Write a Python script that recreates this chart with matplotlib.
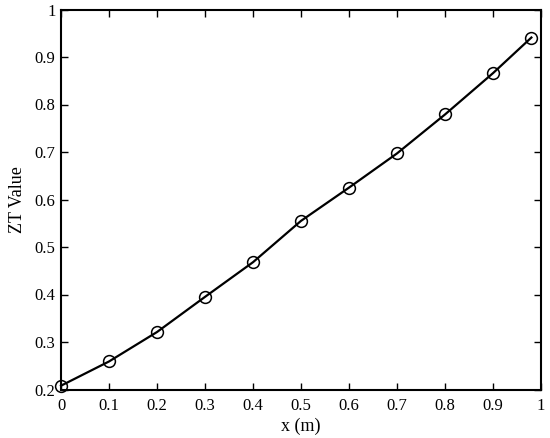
import matplotlib
matplotlib.use("Agg")
import matplotlib.pyplot as plt

x_vals = [0.0, 0.1, 0.2, 0.3, 0.4, 0.5, 0.6, 0.7, 0.8, 0.9, 0.98]
zt_vals = [0.208, 0.259, 0.321, 0.395, 0.468, 0.555, 0.625, 0.697, 0.779, 0.866, 0.941]
xticks = [0, 0.1, 0.2, 0.3, 0.4, 0.5, 0.6, 0.7, 0.8, 0.9, 1]
xtick_labels = ["0", "0.1", "0.2", "0.3", "0.4", "0.5", "0.6", "0.7", "0.8", "0.9", "1"]
yticks = [0.2, 0.3, 0.4, 0.5, 0.6, 0.7, 0.8, 0.9, 1]
ytick_labels = ["0.2", "0.3", "0.4", "0.5", "0.6", "0.7", "0.8", "0.9", "1"]

plt.rcParams['font.family'] = ['Liberation Serif', 'DejaVu Serif']

fig = plt.figure(figsize=(5.5, 4.38), dpi=100)
ax = fig.add_axes([61/550, 1 - 389.5/438, (541-61)/550, (389.5-9.5)/438])

ax.plot(x_vals, zt_vals, color='black', lw=1.6, marker='o', markersize=8.5,
        markerfacecolor='none', markeredgecolor='black', markeredgewidth=1.1, clip_on=False)

ax.set_xlim(0, 1)
ax.set_ylim(0.2, 1)
ax.set_xticks(xticks)
ax.set_xticklabels(xtick_labels)
ax.set_yticks(yticks)
ax.set_yticklabels(ytick_labels)
ax.tick_params(direction='in', top=True, right=True, length=5, width=1, labelsize=12)
ax.tick_params(axis='x', pad=6)
ax.tick_params(axis='y', pad=4)
for s in ax.spines.values():
    s.set_linewidth(1.5)
ax.set_xlabel("x (m)", fontsize=13, labelpad=3)
ax.set_ylabel("ZT Value", fontsize=13, labelpad=6)

fig.savefig("out.png", dpi=100)
